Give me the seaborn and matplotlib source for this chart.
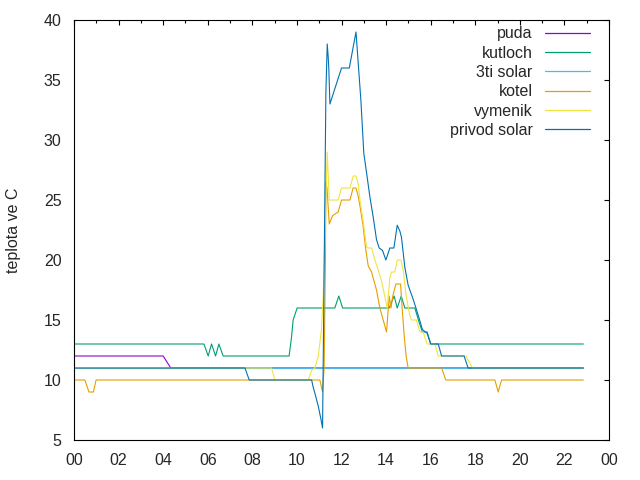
import matplotlib
matplotlib.use("Agg")
import matplotlib.pyplot as plt
from matplotlib.lines import Line2D
import pandas as pd
import seaborn as sns

# cas v hodinach, teplota ve C
names = ["puda", "kutloch", "3ti solar", "kotel", "vymenik", "privod solar"]
colors = ["#9400d3", "#009e73", "#56b4e9", "#e69f00", "#f0e442", "#0072b2"]

puda_t = [0.05, 4.0, 4.34, 22.85]
puda_v = [12, 12, 11, 11]

kutloch_t = [0.05, 5.83, 6.02, 6.17, 6.35, 6.5, 6.69, 9.65, 9.76, 9.83, 10.01, 11.7, 11.88, 12.05,
             14.14, 14.36, 14.5, 14.68, 14.84, 15.29, 15.45, 15.63, 15.84, 16.0, 22.85]
kutloch_v = [13, 13, 12, 13, 12, 13, 12, 12, 13.6, 15, 16, 16, 17, 16,
             16, 17, 16, 17, 16, 16, 15, 14, 14, 13, 13]

solar3_t = [0.05, 22.85]
solar3_v = [11, 11]

kotel_t = [0.05, 0.49, 0.67, 0.87, 0.99, 11.03, 11.1, 11.15, 11.22, 11.28, 11.3, 11.35, 11.45, 11.6,
           11.85, 12.0, 12.38, 12.52, 12.65, 12.75, 12.83, 12.97, 13.08, 13.2, 13.35, 13.42, 13.57,
           13.72, 13.87, 14.02, 14.14, 14.22, 14.3, 14.44, 14.65, 14.72, 14.82, 14.9, 14.99, 16.49,
           16.68, 18.88, 19.03, 19.18, 22.85]
kotel_v = [10, 10, 9, 9, 10, 10, 9.4, 9, 11, 20, 26.5, 26, 23, 23.7,
           24, 25, 25, 26, 26, 25.3, 24.5, 22.8, 21, 19.5, 19, 18.5, 17.5,
           16, 15, 14, 17, 16, 17, 18, 18, 16, 13.5, 12, 11, 11,
           10, 10, 9, 10, 10]

vymenik_t = [0.05, 8.86, 9.01, 10.51, 10.66, 10.81, 10.96, 11.1, 11.18, 11.22, 11.3, 11.36, 11.45,
             11.85, 12.0, 12.38, 12.52, 12.65, 12.75, 12.83, 12.97, 13.12, 13.2, 13.35, 13.5, 13.64,
             13.79, 13.94, 14.05, 14.17, 14.24, 14.39, 14.5, 14.67, 14.78, 14.9, 15.05, 15.14, 15.36,
             15.52, 15.66, 15.84, 16.19, 16.34, 17.58, 17.88, 22.85]
vymenik_v = [11, 11, 10, 10, 10.8, 11, 12, 14.2, 17, 19.6, 25, 29, 25,
             25, 26, 26, 27, 27, 26.3, 25, 23.3, 21.1, 21, 21, 20, 19.2,
             18.3, 17, 16, 18.5, 19, 19, 20, 20, 19, 17, 15.5, 15, 15,
             14, 14, 13, 13, 12, 12, 11, 11]

privod_t = [0.05, 7.67, 7.86, 10.66, 10.73, 10.85, 10.96, 11.06, 11.15, 11.3, 11.36, 11.4, 11.43,
            11.48, 12.0, 12.35, 12.65, 12.75, 12.87, 13.0, 13.13, 13.27, 13.42, 13.57, 13.69, 13.84,
            13.99, 14.17, 14.35, 14.5, 14.62, 14.69, 14.84, 14.99, 15.22, 15.44, 15.63, 15.84, 16.0,
            16.34, 16.49, 17.5, 17.68, 22.85]
privod_v = [11, 11, 10, 10, 9.4, 8.6, 7.8, 6.9, 6, 34, 38, 37, 36,
            33, 36, 36, 39, 36.4, 33.3, 28.9, 27.2, 25.3, 23.6, 21.7, 21, 20.8,
            20, 21, 21, 22.9, 22.4, 21.9, 19.4, 17.9, 16.7, 15.4, 14.2, 13.9, 13,
            13, 12, 12, 11, 11]

xticks = list(range(0, 25, 2))
xticklabels = ["%02d" % (h % 24) for h in xticks]
yticks = list(range(5, 41, 5))

series = [(puda_t, puda_v), (kutloch_t, kutloch_v), (solar3_t, solar3_v),
          (kotel_t, kotel_v), (vymenik_t, vymenik_v), (privod_t, privod_v)]
df = pd.concat([pd.DataFrame({"cas": t, "teplota": v, "cidlo": n})
                for n, (t, v) in zip(names, series)], ignore_index=True)

sns.set_style("white")
plt.rcParams["font.family"] = ["Liberation Sans", "DejaVu Sans"]
plt.rcParams["font.size"] = 11.5

fig = plt.figure(figsize=(6.4, 4.8), dpi=100)
ax = fig.add_axes([74 / 640, 40 / 480, 535 / 640, 420 / 480])
palette = dict(zip(names, colors))
sns.lineplot(data=df, x="cas", y="teplota", hue="cidlo", hue_order=names,
             palette=palette, estimator=None, sort=False,
             linewidth=0.8, legend=False, ax=ax)

ax.set_xlim(0, 24)
ax.set_ylim(5, 40)
ax.set_xticks(xticks)
ax.set_xticklabels(xticklabels)
ax.set_xticks(range(0, 25), minor=True)
ax.set_yticks(yticks)
ax.set_xlabel("")
ax.set_ylabel("teplota ve C")
ax.yaxis.set_label_coords(-53 / 535, 0.5)
for s in ax.spines.values():
    s.set_color("black")
    s.set_linewidth(0.8)
ax.tick_params(which="both", direction="in", top=True, right=True, color="black", width=0.8)
ax.tick_params(which="major", length=3.5)
ax.tick_params(which="minor", length=2)
ax.tick_params(axis="x", which="major", pad=9.5)
ax.tick_params(axis="y", which="major", pad=9)

handles = [Line2D([], [], color=palette[n], linewidth=0.9) for n in names]
ax.legend(handles, names, loc="upper right", bbox_to_anchor=(0.9765, 1.0),
          frameon=False, markerfirst=False, handlelength=2.8, handletextpad=0.8,
          labelspacing=0.27, borderaxespad=0, fontsize=11.5)

fig.savefig("out.png", dpi=100)
